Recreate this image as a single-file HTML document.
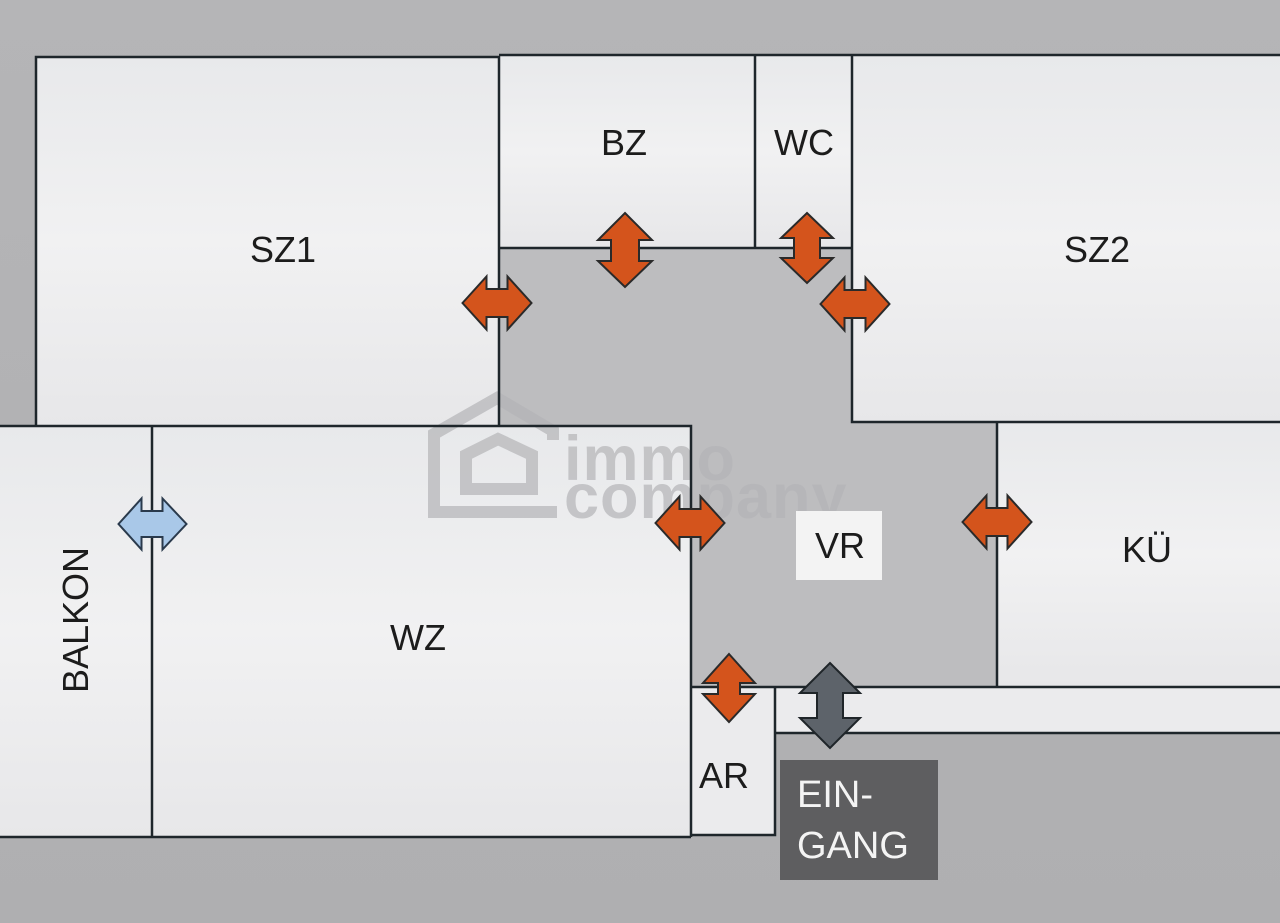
<!DOCTYPE html>
<html><head><meta charset="utf-8">
<style>
html,body{margin:0;padding:0;background:#b3b3b5;}
svg{display:block;}
text{font-family:"Liberation Sans",Arial,sans-serif;}
</style></head>
<body>
<svg width="1280" height="923" viewBox="0 0 1280 923" xmlns="http://www.w3.org/2000/svg">
<defs>
<linearGradient id="rm" x1="0" y1="0" x2="0" y2="1">
<stop offset="0" stop-color="#e8e9eb"/>
<stop offset="0.5" stop-color="#f1f1f2"/>
<stop offset="1" stop-color="#e7e7e9"/>
</linearGradient>
<linearGradient id="bg" x1="0" y1="0" x2="0" y2="1">
<stop offset="0" stop-color="#b5b5b7"/>
<stop offset="1" stop-color="#afafb1"/>
</linearGradient>
</defs>
<rect x="0" y="0" width="1280" height="923" fill="url(#bg)"/>
<!-- VR gray -->
<polygon points="499,248 852,248 852,422 997,422 997,687 691,687 691,426 499,426" fill="#bdbdbf"/>
<!-- rooms -->
<rect x="36" y="57" width="463" height="369" fill="url(#rm)"/>
<rect x="499" y="55" width="256" height="193" fill="url(#rm)"/>
<rect x="755" y="55" width="97" height="193" fill="url(#rm)"/>
<rect x="852" y="55" width="428" height="367" fill="url(#rm)"/>
<rect x="0" y="426" width="152" height="411" fill="url(#rm)"/>
<rect x="152" y="426" width="539" height="411" fill="url(#rm)"/>
<rect x="997" y="422" width="283" height="265" fill="url(#rm)"/>
<rect x="691" y="687" width="84" height="148" fill="#ebebed"/>
<rect x="775" y="687" width="505" height="46" fill="#ebebed"/>

<!-- watermark -->
<g fill="none" stroke="rgba(180,180,182,0.7)" stroke-width="12" stroke-linejoin="miter">
<path d="M553,440 V431 L497,398 L434,434 V512 H557"/>
<path d="M466,455 L498,439 L532,455 V489 H466 Z"/>
</g>
<text x="564" y="480" font-size="63" font-weight="bold" letter-spacing="1" fill="rgba(180,180,182,0.7)">immo</text>
<text x="564" y="518" font-size="63" font-weight="bold" letter-spacing="1" fill="rgba(180,180,182,0.7)">company</text>

<!-- walls -->
<g fill="none" stroke="#1e262b" stroke-width="2.5">
<path d="M36,426 V57 H499 V426"/>
<path d="M499,55 H1280"/>
<path d="M499,248 H852"/>
<path d="M755,55 V248"/>
<path d="M852,55 V422 H1280"/>
<path d="M997,422 V687"/>
<path d="M0,426 H691 V837"/>
<path d="M0,837 H691"/>
<path d="M152,426 V837"/>
<path d="M691,687 H1280"/>
<path d="M775,687 V835 H691"/>
<path d="M775,733 H1280"/>
</g>

<!-- VR label box -->
<rect x="796" y="511" width="86" height="69" fill="#f3f3f3"/>

<!-- Eingang box -->
<rect x="780" y="760" width="158" height="120" fill="#5e5e60"/>

<!-- arrows -->
<g stroke="#2a2a2a" stroke-width="2" stroke-linejoin="miter">
<polygon fill="#d4541c" points="462.5,303 486.5,276.5 486.5,289 507.5,289 507.5,276.5 531.5,303 507.5,329.5 507.5,317 486.5,317 486.5,329.5"/>
<polygon fill="#d4541c" points="820.5,304 844.5,277.5 844.5,290 865.5,290 865.5,277.5 889.5,304 865.5,330.5 865.5,318 844.5,318 844.5,330.5"/>
<polygon fill="#d4541c" points="655.5,523 679.5,496.5 679.5,509 700.5,509 700.5,496.5 724.5,523 700.5,549.5 700.5,537 679.5,537 679.5,549.5"/>
<polygon fill="#d4541c" points="962.5,522 986.5,495.5 986.5,508 1007.5,508 1007.5,495.5 1031.5,522 1007.5,548.5 1007.5,536 986.5,536 986.5,548.5"/>
<polygon fill="#a9c8e8" stroke="#2a3a4c" points="118.5,524 141.5,498.5 141.5,511 162.5,511 162.5,498.5 186.5,524 162.5,549.5 162.5,537 141.5,537 141.5,549.5"/>
<polygon fill="#d4541c" points="625,213 652,240 639,240 639,261 652,261 625,287 598,261 611,261 611,240 598,240"/>
<polygon fill="#d4541c" points="807,213 833,238 820,238 820,258 833,258 807,283 781,258 794,258 794,238 781,238"/>
<polygon fill="#d4541c" points="729,654 755,683 740,683 740,694 755,694 729,722 703,694 718,694 718,683 703,683"/>
<polygon fill="#5d636a" stroke="#1f2529" points="830,663 860,693 843,693 843,718 860,718 830,748 800,718 817,718 817,693 800,693"/>
</g>

<!-- labels -->
<g font-size="36" fill="#1c1c1c" text-anchor="middle">
<text x="283" y="262">SZ1</text>
<text x="624" y="155">BZ</text>
<text x="804" y="155">WC</text>
<text x="1097" y="262">SZ2</text>
<text x="840" y="558">VR</text>
<text x="1147" y="562">KÜ</text>
<text x="418" y="650">WZ</text>
<text x="724" y="788">AR</text>
<text transform="translate(88,620) rotate(-90)" x="0" y="0">BALKON</text>
</g>
<g font-size="38" fill="#f4f4f4">
<text x="797" y="807">EIN-</text>
<text x="797" y="858">GANG</text>
</g>
</svg>
</body></html>
